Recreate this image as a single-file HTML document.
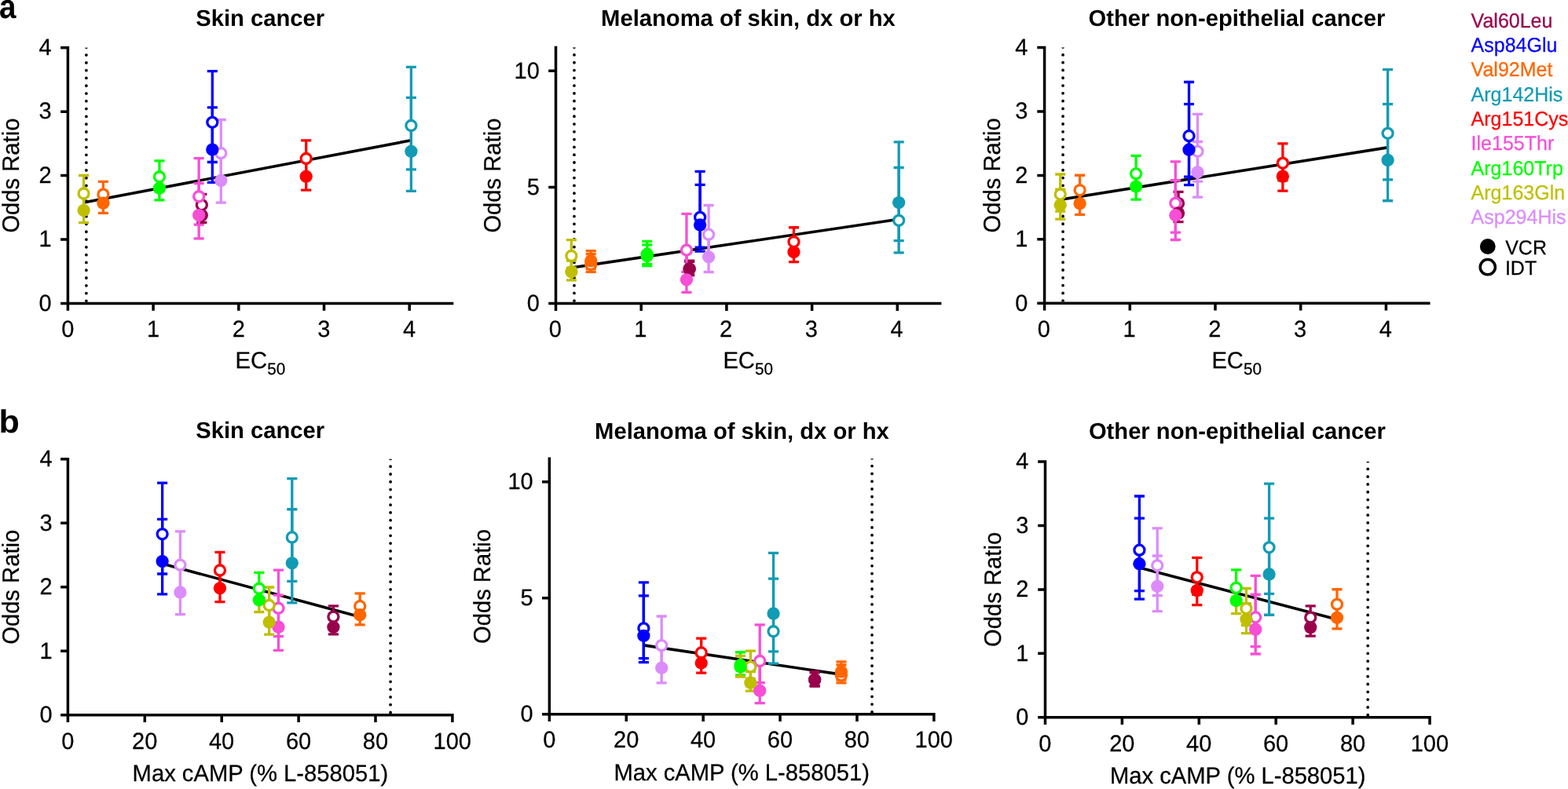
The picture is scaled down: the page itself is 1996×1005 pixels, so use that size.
<!DOCTYPE html>
<html lang="en">
<head>
<meta charset="utf-8">
<title>Odds ratio vs EC50 and Max cAMP</title>
<style>html,body{margin:0;padding:0;background:#fff;overflow:hidden}svg{display:block}text{white-space:pre}</style>
</head>
<body>
<svg width="1996" height="1005" viewBox="0 0 1996 1005" font-family='"Liberation Sans", sans-serif' fill="#000" text-rendering="geometricPrecision">
<rect width="1996" height="1005" fill="#fff"/>
<g>
<line x1="109.88" y1="60.3" x2="109.88" y2="386.5" stroke="#000" stroke-width="3.8" stroke-linecap="round" stroke-dasharray="0 9.79" clip-path="url(#clip1)"/>
<clipPath id="clip1"><rect x="86.4" y="60.7" width="489.15" height="324.05"/></clipPath>
<line x1="106.55" y1="258" x2="523.4" y2="178.75" stroke="#000" stroke-width="3.6"/>
<path d="M256.84 247.38V273.4M250.29 247.38H263.39M250.29 273.4H263.39" stroke="#99004C" stroke-width="3.3" fill="none"/>
<path d="M270.32 90.67V206.5M263.77 90.67H276.87M263.77 206.5H276.87" stroke="#0000FF" stroke-width="3.3" fill="none"/>
<path d="M131.4 231.34V262.21M124.85 231.34H137.95M124.85 262.21H137.95" stroke="#FF6600" stroke-width="3.3" fill="none"/>
<path d="M523.37 85.3V215.94M516.82 85.3H529.92M516.82 215.94H529.92" stroke="#129BB4" stroke-width="3.3" fill="none"/>
<path d="M389.67 178.88V222.57M383.12 178.88H396.22M383.12 222.57H396.22" stroke="#FF0000" stroke-width="3.3" fill="none"/>
<path d="M253.15 201.69V286.07M246.6 201.69H259.7M246.6 286.07H259.7" stroke="#F74ED6" stroke-width="3.3" fill="none"/>
<path d="M202.93 204.87V243.31M196.38 204.87H209.48M196.38 243.31H209.48" stroke="#00FF00" stroke-width="3.3" fill="none"/>
<path d="M106.56 223.52V266.22M100.01 223.52H113.11M100.01 266.22H113.11" stroke="#BFBF00" stroke-width="3.3" fill="none"/>
<path d="M281.3 152.49V230.07M274.75 152.49H287.85M274.75 230.07H287.85" stroke="#DC8CFA" stroke-width="3.3" fill="none"/>
<path d="M256.84 264.16V283.38M250.29 264.16H263.39M250.29 283.38H263.39" stroke="#99004C" stroke-width="3.3" fill="none"/>
<path d="M270.32 136.86V232.32M263.77 136.86H276.87M263.77 232.32H276.87" stroke="#0000FF" stroke-width="3.3" fill="none"/>
<path d="M131.4 244.52V271.33M124.85 244.52H137.95M124.85 271.33H137.95" stroke="#FF6600" stroke-width="3.3" fill="none"/>
<path d="M523.37 124.31V243.31M516.82 124.31H529.92M516.82 243.31H529.92" stroke="#129BB4" stroke-width="3.3" fill="none"/>
<path d="M389.67 205.39V242.17M383.12 205.39H396.22M383.12 242.17H396.22" stroke="#FF0000" stroke-width="3.3" fill="none"/>
<path d="M253.15 233.62V303.83M246.6 233.62H259.7M246.6 303.83H259.7" stroke="#F74ED6" stroke-width="3.3" fill="none"/>
<path d="M202.93 222.73V254.96M196.38 222.73H209.48M196.38 254.96H209.48" stroke="#00FF00" stroke-width="3.3" fill="none"/>
<path d="M106.56 250.16V283.63M100.01 250.16H113.11M100.01 283.63H113.11" stroke="#BFBF00" stroke-width="3.3" fill="none"/>
<path d="M281.3 195.71V258.05M274.75 195.71H287.85M274.75 258.05H287.85" stroke="#DC8CFA" stroke-width="3.3" fill="none"/>
<circle cx="256.84" cy="261.07" r="6.5" fill="#fff" stroke="#99004C" stroke-width="3.3"/>
<circle cx="270.32" cy="155.83" r="6.5" fill="#fff" stroke="#0000FF" stroke-width="3.3"/>
<circle cx="131.4" cy="247.63" r="6.5" fill="#fff" stroke="#FF6600" stroke-width="3.3"/>
<circle cx="523.37" cy="159.99" r="6.5" fill="#fff" stroke="#129BB4" stroke-width="3.3"/>
<circle cx="389.67" cy="202.02" r="6.5" fill="#fff" stroke="#FF0000" stroke-width="3.3"/>
<circle cx="253.15" cy="250.23" r="6.5" fill="#fff" stroke="#F74ED6" stroke-width="3.3"/>
<circle cx="202.93" cy="225.23" r="6.5" fill="#fff" stroke="#00FF00" stroke-width="3.3"/>
<circle cx="106.56" cy="246.49" r="6.5" fill="#fff" stroke="#BFBF00" stroke-width="3.3"/>
<circle cx="281.3" cy="195.17" r="6.5" fill="#fff" stroke="#DC8CFA" stroke-width="3.3"/>
<circle cx="256.84" cy="274.18" r="8.15" fill="#99004C"/>
<circle cx="270.32" cy="190.61" r="8.15" fill="#0000FF"/>
<circle cx="131.4" cy="258.62" r="8.15" fill="#FF6600"/>
<circle cx="523.37" cy="192.81" r="8.15" fill="#129BB4"/>
<circle cx="389.67" cy="224.82" r="8.15" fill="#FF0000"/>
<circle cx="253.15" cy="274.1" r="8.15" fill="#F74ED6"/>
<circle cx="202.93" cy="239.73" r="8.15" fill="#00FF00"/>
<circle cx="106.56" cy="268.07" r="8.15" fill="#BFBF00"/>
<circle cx="281.3" cy="229.95" r="8.15" fill="#DC8CFA"/>
<path d="M86.4 58.95V395.8M77.1 386.5H577.3M77.1 305.05H86.4M77.1 223.6H86.4M77.1 142.15H86.4M77.1 60.7H86.4M195.1 386.5V395.8M303.8 386.5V395.8M412.5 386.5V395.8M521.2 386.5V395.8" stroke="#000" stroke-width="3.5" fill="none"/>
<text transform="translate(65.7 395.8) scale(1 1.02)" font-size="29.0" text-anchor="end" stroke="#000" stroke-width="0.25">0</text>
<text transform="translate(65.7 314.35) scale(1 1.02)" font-size="29.0" text-anchor="end" stroke="#000" stroke-width="0.25">1</text>
<text transform="translate(65.7 232.9) scale(1 1.02)" font-size="29.0" text-anchor="end" stroke="#000" stroke-width="0.25">2</text>
<text transform="translate(65.7 151.45) scale(1 1.02)" font-size="29.0" text-anchor="end" stroke="#000" stroke-width="0.25">3</text>
<text transform="translate(65.7 70) scale(1 1.02)" font-size="29.0" text-anchor="end" stroke="#000" stroke-width="0.25">4</text>
<text transform="translate(86.3 429.1) scale(1 1.02)" font-size="29.0" text-anchor="middle" stroke="#000" stroke-width="0.25">0</text>
<text transform="translate(195 429.1) scale(1 1.02)" font-size="29.0" text-anchor="middle" stroke="#000" stroke-width="0.25">1</text>
<text transform="translate(303.7 429.1) scale(1 1.02)" font-size="29.0" text-anchor="middle" stroke="#000" stroke-width="0.25">2</text>
<text transform="translate(412.4 429.1) scale(1 1.02)" font-size="29.0" text-anchor="middle" stroke="#000" stroke-width="0.25">3</text>
<text transform="translate(521.1 429.1) scale(1 1.02)" font-size="29.0" text-anchor="middle" stroke="#000" stroke-width="0.25">4</text>
<text x="249.3" y="32.8" font-size="29.2" font-weight="bold">Skin cancer</text>
<text transform="translate(23.6 223.6) rotate(-90) scale(1 1.03)" font-size="29.2" text-anchor="middle" stroke="#000" stroke-width="0.25">Odds Ratio</text>
<text transform="translate(299.6 468.9) scale(1 1.02)" font-size="29.2" stroke="#000" stroke-width="0.25">EC<tspan font-size="20.7" dy="7.8">50</tspan></text>
</g>
<g>
<line x1="730.98" y1="60.16" x2="730.98" y2="386.6" stroke="#000" stroke-width="3.8" stroke-linecap="round" stroke-dasharray="0 9.79" clip-path="url(#clip2)"/>
<clipPath id="clip2"><rect x="707.5" y="60.56" width="489.15" height="324.29"/></clipPath>
<line x1="727.4" y1="341" x2="1144.2" y2="279.3" stroke="#000" stroke-width="3.6"/>
<path d="M877.64 332.11V350.19M871.09 332.11H884.19M871.09 350.19H884.19" stroke="#99004C" stroke-width="3.3" fill="none"/>
<path d="M891.12 218.44V315.13M884.57 218.44H897.67M884.57 315.13H897.67" stroke="#0000FF" stroke-width="3.3" fill="none"/>
<path d="M752.2 323.61V346.43M745.65 323.61H758.75M745.65 346.43H758.75" stroke="#FF6600" stroke-width="3.3" fill="none"/>
<path d="M1144.17 213.49V321.8M1137.62 213.49H1150.72M1137.62 321.8H1150.72" stroke="#129BB4" stroke-width="3.3" fill="none"/>
<path d="M1010.47 289.76V322.89M1003.92 289.76H1017.02M1003.92 322.89H1017.02" stroke="#FF0000" stroke-width="3.3" fill="none"/>
<path d="M873.95 272.39V346.25M867.4 272.39H880.5M867.4 346.25H880.5" stroke="#F74ED6" stroke-width="3.3" fill="none"/>
<path d="M823.73 307.36V336.56M817.18 307.36H830.28M817.18 336.56H830.28" stroke="#00FF00" stroke-width="3.3" fill="none"/>
<path d="M727.36 305.7V341.21M720.81 305.7H733.91M720.81 341.21H733.91" stroke="#BFBF00" stroke-width="3.3" fill="none"/>
<path d="M902.1 261.51V324.86M895.55 261.51H908.65M895.55 324.86H908.65" stroke="#DC8CFA" stroke-width="3.3" fill="none"/>
<path d="M877.64 333.45V350.64M871.09 333.45H884.19M871.09 350.64H884.19" stroke="#99004C" stroke-width="3.3" fill="none"/>
<path d="M891.12 235.46V320.2M884.57 235.46H897.67M884.57 320.2H897.67" stroke="#0000FF" stroke-width="3.3" fill="none"/>
<path d="M752.2 319.58V342.7M745.65 319.58H758.75M745.65 342.7H758.75" stroke="#FF6600" stroke-width="3.3" fill="none"/>
<path d="M1144.17 180.89V306.53M1137.62 180.89H1150.72M1137.62 306.53H1150.72" stroke="#129BB4" stroke-width="3.3" fill="none"/>
<path d="M1010.47 305.24V333.71M1003.92 305.24H1017.02M1003.92 333.71H1017.02" stroke="#FF0000" stroke-width="3.3" fill="none"/>
<path d="M873.95 322.22V372.39M867.4 322.22H880.5M867.4 372.39H880.5" stroke="#F74ED6" stroke-width="3.3" fill="none"/>
<path d="M823.73 311.96V338.63M817.18 311.96H830.28M817.18 338.63H830.28" stroke="#00FF00" stroke-width="3.3" fill="none"/>
<path d="M727.36 332.14V356.8M720.81 332.14H733.91M720.81 356.8H733.91" stroke="#BFBF00" stroke-width="3.3" fill="none"/>
<path d="M902.1 299.01V346.49M895.55 299.01H908.65M895.55 346.49H908.65" stroke="#DC8CFA" stroke-width="3.3" fill="none"/>
<circle cx="877.64" cy="342.34" r="6.5" fill="#fff" stroke="#99004C" stroke-width="3.3"/>
<circle cx="891.12" cy="276.87" r="6.5" fill="#fff" stroke="#0000FF" stroke-width="3.3"/>
<circle cx="752.2" cy="337" r="6.5" fill="#fff" stroke="#FF6600" stroke-width="3.3"/>
<circle cx="1144.17" cy="280.81" r="6.5" fill="#fff" stroke="#129BB4" stroke-width="3.3"/>
<circle cx="1010.47" cy="308.05" r="6.5" fill="#fff" stroke="#FF0000" stroke-width="3.3"/>
<circle cx="873.95" cy="318.6" r="6.5" fill="#fff" stroke="#F74ED6" stroke-width="3.3"/>
<circle cx="823.73" cy="323.67" r="6.5" fill="#fff" stroke="#00FF00" stroke-width="3.3"/>
<circle cx="727.36" cy="326.01" r="6.5" fill="#fff" stroke="#BFBF00" stroke-width="3.3"/>
<circle cx="902.1" cy="298.71" r="6.5" fill="#fff" stroke="#DC8CFA" stroke-width="3.3"/>
<circle cx="877.64" cy="342.7" r="8.15" fill="#99004C"/>
<circle cx="891.12" cy="286.41" r="8.15" fill="#0000FF"/>
<circle cx="752.2" cy="332.2" r="8.15" fill="#FF6600"/>
<circle cx="1144.17" cy="258.1" r="8.15" fill="#129BB4"/>
<circle cx="1010.47" cy="321" r="8.15" fill="#FF0000"/>
<circle cx="873.95" cy="356.3" r="8.15" fill="#F74ED6"/>
<circle cx="823.73" cy="326.04" r="8.15" fill="#00FF00"/>
<circle cx="727.36" cy="346.31" r="8.15" fill="#BFBF00"/>
<circle cx="902.1" cy="327.31" r="8.15" fill="#DC8CFA"/>
<path d="M707.5 58.81V395.9M698.2 386.6H1198.4M698.2 238.4H707.5M698.2 90.2H707.5M816.2 386.6V395.9M924.9 386.6V395.9M1033.6 386.6V395.9M1142.3 386.6V395.9" stroke="#000" stroke-width="3.5" fill="none"/>
<text transform="translate(686.8 395.9) scale(1 1.02)" font-size="29.0" text-anchor="end" stroke="#000" stroke-width="0.25">0</text>
<text transform="translate(686.8 247.7) scale(1 1.02)" font-size="29.0" text-anchor="end" stroke="#000" stroke-width="0.25">5</text>
<text transform="translate(686.8 99.5) scale(1 1.02)" font-size="29.0" text-anchor="end" stroke="#000" stroke-width="0.25">10</text>
<text transform="translate(706.7 429.1) scale(1 1.02)" font-size="29.0" text-anchor="middle" stroke="#000" stroke-width="0.25">0</text>
<text transform="translate(815.4 429.1) scale(1 1.02)" font-size="29.0" text-anchor="middle" stroke="#000" stroke-width="0.25">1</text>
<text transform="translate(924.1 429.1) scale(1 1.02)" font-size="29.0" text-anchor="middle" stroke="#000" stroke-width="0.25">2</text>
<text transform="translate(1032.8 429.1) scale(1 1.02)" font-size="29.0" text-anchor="middle" stroke="#000" stroke-width="0.25">3</text>
<text transform="translate(1141.5 429.1) scale(1 1.02)" font-size="29.0" text-anchor="middle" stroke="#000" stroke-width="0.25">4</text>
<text x="765.1" y="32.8" font-size="29.2" font-weight="bold">Melanoma of skin, dx or hx</text>
<text transform="translate(637 223.58) rotate(-90) scale(1 1.03)" font-size="29.2" text-anchor="middle" stroke="#000" stroke-width="0.25">Odds Ratio</text>
<text transform="translate(920.4 468.9) scale(1 1.02)" font-size="29.2" stroke="#000" stroke-width="0.25">EC<tspan font-size="20.7" dy="7.8">50</tspan></text>
</g>
<g>
<line x1="1353.08" y1="60.1" x2="1353.08" y2="386.3" stroke="#000" stroke-width="3.8" stroke-linecap="round" stroke-dasharray="0 9.79" clip-path="url(#clip3)"/>
<clipPath id="clip3"><rect x="1329.6" y="60.5" width="489.15" height="324.05"/></clipPath>
<line x1="1349.8" y1="254.3" x2="1766.4" y2="187.85" stroke="#000" stroke-width="3.6"/>
<path d="M1500.04 244.41V272.22M1493.49 244.41H1506.59M1493.49 272.22H1506.59" stroke="#99004C" stroke-width="3.3" fill="none"/>
<path d="M1513.52 104.48V225.03M1506.97 104.48H1520.07M1506.97 225.03H1520.07" stroke="#0000FF" stroke-width="3.3" fill="none"/>
<path d="M1374.6 223.24V259.13M1368.05 223.24H1381.15M1368.05 259.13H1381.15" stroke="#FF6600" stroke-width="3.3" fill="none"/>
<path d="M1766.57 88.68V228.94M1760.02 88.68H1773.12M1760.02 228.94H1773.12" stroke="#129BB4" stroke-width="3.3" fill="none"/>
<path d="M1632.87 182.84V229.78M1626.32 182.84H1639.42M1626.32 229.78H1639.42" stroke="#FF0000" stroke-width="3.3" fill="none"/>
<path d="M1496.35 205.81V296.13M1489.8 205.81H1502.9M1489.8 296.13H1502.9" stroke="#F74ED6" stroke-width="3.3" fill="none"/>
<path d="M1446.13 198.39V241.38M1439.58 198.39H1452.68M1439.58 241.38H1452.68" stroke="#00FF00" stroke-width="3.3" fill="none"/>
<path d="M1349.76 222.02V269.17M1343.21 222.02H1356.31M1343.21 269.17H1356.31" stroke="#BFBF00" stroke-width="3.3" fill="none"/>
<path d="M1524.5 145.29V231.14M1517.95 145.29H1531.05M1517.95 231.14H1531.05" stroke="#DC8CFA" stroke-width="3.3" fill="none"/>
<path d="M1500.04 259.46V282.61M1493.49 259.46H1506.59M1493.49 282.61H1506.59" stroke="#99004C" stroke-width="3.3" fill="none"/>
<path d="M1513.52 132.58V235.62M1506.97 132.58H1520.07M1506.97 235.62H1520.07" stroke="#0000FF" stroke-width="3.3" fill="none"/>
<path d="M1374.6 243.57V273.33M1368.05 243.57H1381.15M1368.05 273.33H1381.15" stroke="#FF6600" stroke-width="3.3" fill="none"/>
<path d="M1766.57 132.58V255.74M1760.02 132.58H1773.12M1760.02 255.74H1773.12" stroke="#129BB4" stroke-width="3.3" fill="none"/>
<path d="M1632.87 203.85V243.03M1626.32 203.85H1639.42M1626.32 243.03H1639.42" stroke="#FF0000" stroke-width="3.3" fill="none"/>
<path d="M1496.35 229.75V305.5M1489.8 229.75H1502.9M1489.8 305.5H1502.9" stroke="#F74ED6" stroke-width="3.3" fill="none"/>
<path d="M1446.13 218.97V254.11M1439.58 218.97H1452.68M1439.58 254.11H1452.68" stroke="#00FF00" stroke-width="3.3" fill="none"/>
<path d="M1349.76 241.07V279.11M1343.21 241.07H1356.31M1343.21 279.11H1356.31" stroke="#BFBF00" stroke-width="3.3" fill="none"/>
<path d="M1524.5 180.48V251.17M1517.95 180.48H1531.05M1517.95 251.17H1531.05" stroke="#DC8CFA" stroke-width="3.3" fill="none"/>
<circle cx="1500.04" cy="259.08" r="6.5" fill="#fff" stroke="#99004C" stroke-width="3.3"/>
<circle cx="1513.52" cy="173.15" r="6.5" fill="#fff" stroke="#0000FF" stroke-width="3.3"/>
<circle cx="1374.6" cy="242.3" r="6.5" fill="#fff" stroke="#FF6600" stroke-width="3.3"/>
<circle cx="1766.57" cy="169.81" r="6.5" fill="#fff" stroke="#129BB4" stroke-width="3.3"/>
<circle cx="1632.87" cy="207.84" r="6.5" fill="#fff" stroke="#FF0000" stroke-width="3.3"/>
<circle cx="1496.35" cy="258.83" r="6.5" fill="#fff" stroke="#F74ED6" stroke-width="3.3"/>
<circle cx="1446.13" cy="221.28" r="6.5" fill="#fff" stroke="#00FF00" stroke-width="3.3"/>
<circle cx="1349.76" cy="247.59" r="6.5" fill="#fff" stroke="#BFBF00" stroke-width="3.3"/>
<circle cx="1524.5" cy="192.86" r="6.5" fill="#fff" stroke="#DC8CFA" stroke-width="3.3"/>
<circle cx="1500.04" cy="271.62" r="8.15" fill="#99004C"/>
<circle cx="1513.52" cy="190.66" r="8.15" fill="#0000FF"/>
<circle cx="1374.6" cy="259.32" r="8.15" fill="#FF6600"/>
<circle cx="1766.57" cy="204.01" r="8.15" fill="#129BB4"/>
<circle cx="1632.87" cy="224.62" r="8.15" fill="#FF0000"/>
<circle cx="1496.35" cy="274.14" r="8.15" fill="#F74ED6"/>
<circle cx="1446.13" cy="237.57" r="8.15" fill="#00FF00"/>
<circle cx="1349.76" cy="261.27" r="8.15" fill="#BFBF00"/>
<circle cx="1524.5" cy="219.33" r="8.15" fill="#DC8CFA"/>
<path d="M1329.6 58.75V395.6M1320.3 386.3H1820.5M1320.3 304.85H1329.6M1320.3 223.4H1329.6M1320.3 141.95H1329.6M1320.3 60.5H1329.6M1438.3 386.3V395.6M1547 386.3V395.6M1655.7 386.3V395.6M1764.4 386.3V395.6" stroke="#000" stroke-width="3.5" fill="none"/>
<text transform="translate(1308.3 395.6) scale(1 1.02)" font-size="29.0" text-anchor="end" stroke="#000" stroke-width="0.25">0</text>
<text transform="translate(1308.3 314.15) scale(1 1.02)" font-size="29.0" text-anchor="end" stroke="#000" stroke-width="0.25">1</text>
<text transform="translate(1308.3 232.7) scale(1 1.02)" font-size="29.0" text-anchor="end" stroke="#000" stroke-width="0.25">2</text>
<text transform="translate(1308.3 151.25) scale(1 1.02)" font-size="29.0" text-anchor="end" stroke="#000" stroke-width="0.25">3</text>
<text transform="translate(1308.3 69.8) scale(1 1.02)" font-size="29.0" text-anchor="end" stroke="#000" stroke-width="0.25">4</text>
<text transform="translate(1328.9 429.1) scale(1 1.02)" font-size="29.0" text-anchor="middle" stroke="#000" stroke-width="0.25">0</text>
<text transform="translate(1437.6 429.1) scale(1 1.02)" font-size="29.0" text-anchor="middle" stroke="#000" stroke-width="0.25">1</text>
<text transform="translate(1546.3 429.1) scale(1 1.02)" font-size="29.0" text-anchor="middle" stroke="#000" stroke-width="0.25">2</text>
<text transform="translate(1655 429.1) scale(1 1.02)" font-size="29.0" text-anchor="middle" stroke="#000" stroke-width="0.25">3</text>
<text transform="translate(1763.7 429.1) scale(1 1.02)" font-size="29.0" text-anchor="middle" stroke="#000" stroke-width="0.25">4</text>
<text x="1385.5" y="32.8" font-size="29.2" font-weight="bold">Other non-epithelial cancer</text>
<text transform="translate(1273.3 223.4) rotate(-90) scale(1 1.03)" font-size="29.2" text-anchor="middle" stroke="#000" stroke-width="0.25">Odds Ratio</text>
<text transform="translate(1542.4 468.9) scale(1 1.02)" font-size="29.2" stroke="#000" stroke-width="0.25">EC<tspan font-size="20.7" dy="7.8">50</tspan></text>
</g>
<g>
<line x1="497.09" y1="584.4" x2="497.09" y2="910.8" stroke="#000" stroke-width="3.8" stroke-linecap="round" stroke-dasharray="0 9.79" clip-path="url(#clip4)"/>
<clipPath id="clip4"><rect x="86.4" y="584.8" width="489.5" height="324.25"/></clipPath>
<line x1="206.6" y1="718" x2="458.2" y2="785.7" stroke="#000" stroke-width="3.6"/>
<path d="M424.4 771.9V797.94M417.85 771.9H430.95M417.85 797.94H430.95" stroke="#99004C" stroke-width="3.3" fill="none"/>
<path d="M206.62 615.09V730.98M200.07 615.09H213.17M200.07 730.98H213.17" stroke="#0000FF" stroke-width="3.3" fill="none"/>
<path d="M458.18 755.84V786.73M451.63 755.84H464.73M451.63 786.73H464.73" stroke="#FF6600" stroke-width="3.3" fill="none"/>
<path d="M371.78 609.71V740.44M365.23 609.71H378.33M365.23 740.44H378.33" stroke="#129BB4" stroke-width="3.3" fill="none"/>
<path d="M279.95 703.36V747.07M273.4 703.36H286.5M273.4 747.07H286.5" stroke="#FF0000" stroke-width="3.3" fill="none"/>
<path d="M354.45 726.18V810.61M347.9 726.18H361M347.9 810.61H361" stroke="#F74ED6" stroke-width="3.3" fill="none"/>
<path d="M329.83 729.35V767.82M323.28 729.35H336.38M323.28 767.82H336.38" stroke="#00FF00" stroke-width="3.3" fill="none"/>
<path d="M342.65 748.02V790.75M336.1 748.02H349.2M336.1 790.75H349.2" stroke="#BFBF00" stroke-width="3.3" fill="none"/>
<path d="M229.43 676.95V754.57M222.88 676.95H235.98M222.88 754.57H235.98" stroke="#DC8CFA" stroke-width="3.3" fill="none"/>
<path d="M424.4 788.68V807.92M417.85 788.68H430.95M417.85 807.92H430.95" stroke="#99004C" stroke-width="3.3" fill="none"/>
<path d="M206.62 661.3V756.82M200.07 661.3H213.17M200.07 756.82H213.17" stroke="#0000FF" stroke-width="3.3" fill="none"/>
<path d="M458.18 769.03V795.86M451.63 769.03H464.73M451.63 795.86H464.73" stroke="#FF6600" stroke-width="3.3" fill="none"/>
<path d="M371.78 648.75V767.82M365.23 648.75H378.33M365.23 767.82H378.33" stroke="#129BB4" stroke-width="3.3" fill="none"/>
<path d="M279.95 729.88V766.68M273.4 729.88H286.5M273.4 766.68H286.5" stroke="#FF0000" stroke-width="3.3" fill="none"/>
<path d="M354.45 758.12V828.38M347.9 758.12H361M347.9 828.38H361" stroke="#F74ED6" stroke-width="3.3" fill="none"/>
<path d="M329.83 747.23V779.48M323.28 747.23H336.38M323.28 779.48H336.38" stroke="#BFBF00" stroke-width="3.3" fill="none"/>
<path d="M342.65 774.68V808.17M336.1 774.68H349.2M336.1 808.17H349.2" stroke="#BFBF00" stroke-width="3.3" fill="none"/>
<path d="M229.43 720.19V782.57M222.88 720.19H235.98M222.88 782.57H235.98" stroke="#DC8CFA" stroke-width="3.3" fill="none"/>
<circle cx="424.4" cy="785.59" r="6.5" fill="#fff" stroke="#99004C" stroke-width="3.3"/>
<circle cx="206.62" cy="680.29" r="6.5" fill="#fff" stroke="#0000FF" stroke-width="3.3"/>
<circle cx="458.18" cy="772.14" r="6.5" fill="#fff" stroke="#FF6600" stroke-width="3.3"/>
<circle cx="371.78" cy="684.45" r="6.5" fill="#fff" stroke="#129BB4" stroke-width="3.3"/>
<circle cx="279.95" cy="726.5" r="6.5" fill="#fff" stroke="#FF0000" stroke-width="3.3"/>
<circle cx="354.45" cy="774.75" r="6.5" fill="#fff" stroke="#F74ED6" stroke-width="3.3"/>
<circle cx="329.83" cy="749.73" r="6.5" fill="#fff" stroke="#00FF00" stroke-width="3.3"/>
<circle cx="342.65" cy="771" r="6.5" fill="#fff" stroke="#BFBF00" stroke-width="3.3"/>
<circle cx="229.43" cy="719.66" r="6.5" fill="#fff" stroke="#DC8CFA" stroke-width="3.3"/>
<circle cx="424.4" cy="798.71" r="8.15" fill="#99004C"/>
<circle cx="206.62" cy="715.09" r="8.15" fill="#0000FF"/>
<circle cx="458.18" cy="783.14" r="8.15" fill="#FF6600"/>
<circle cx="371.78" cy="717.29" r="8.15" fill="#129BB4"/>
<circle cx="279.95" cy="749.32" r="8.15" fill="#FF0000"/>
<circle cx="354.45" cy="798.63" r="8.15" fill="#F74ED6"/>
<circle cx="329.83" cy="764.24" r="8.15" fill="#00FF00"/>
<circle cx="342.65" cy="792.6" r="8.15" fill="#BFBF00"/>
<circle cx="229.43" cy="754.46" r="8.15" fill="#DC8CFA"/>
<path d="M86.4 583.05V920.1M77.1 910.8H577.65M77.1 829.3H86.4M77.1 747.8H86.4M77.1 666.3H86.4M77.1 584.8H86.4M184.3 910.8V920.1M282.2 910.8V920.1M380.1 910.8V920.1M478 910.8V920.1M575.9 910.8V920.1" stroke="#000" stroke-width="3.5" fill="none"/>
<text transform="translate(66.6 920.1) scale(1 1.02)" font-size="29.0" text-anchor="end" stroke="#000" stroke-width="0.25">0</text>
<text transform="translate(66.6 838.6) scale(1 1.02)" font-size="29.0" text-anchor="end" stroke="#000" stroke-width="0.25">1</text>
<text transform="translate(66.6 757.1) scale(1 1.02)" font-size="29.0" text-anchor="end" stroke="#000" stroke-width="0.25">2</text>
<text transform="translate(66.6 675.6) scale(1 1.02)" font-size="29.0" text-anchor="end" stroke="#000" stroke-width="0.25">3</text>
<text transform="translate(66.6 594.1) scale(1 1.02)" font-size="29.0" text-anchor="end" stroke="#000" stroke-width="0.25">4</text>
<text transform="translate(86.3 953.95) scale(1 1.02)" font-size="29.0" text-anchor="middle" stroke="#000" stroke-width="0.25">0</text>
<text transform="translate(184.2 953.95) scale(1 1.02)" font-size="29.0" text-anchor="middle" stroke="#000" stroke-width="0.25">20</text>
<text transform="translate(282.1 953.95) scale(1 1.02)" font-size="29.0" text-anchor="middle" stroke="#000" stroke-width="0.25">40</text>
<text transform="translate(380 953.95) scale(1 1.02)" font-size="29.0" text-anchor="middle" stroke="#000" stroke-width="0.25">60</text>
<text transform="translate(477.9 953.95) scale(1 1.02)" font-size="29.0" text-anchor="middle" stroke="#000" stroke-width="0.25">80</text>
<text transform="translate(575.8 953.95) scale(1 1.02)" font-size="29.0" text-anchor="middle" stroke="#000" stroke-width="0.25">100</text>
<text x="249.3" y="558.4" font-size="29.2" font-weight="bold">Skin cancer</text>
<text transform="translate(23.6 747.8) rotate(-90) scale(1 1.03)" font-size="29.2" text-anchor="middle" stroke="#000" stroke-width="0.25">Odds Ratio</text>
<text transform="translate(168.6 995) scale(1 1.02)" font-size="29.2" stroke="#000" stroke-width="0.25">Max cAMP (% L-858051)</text>
</g>
<g>
<line x1="1110.04" y1="583.8" x2="1110.04" y2="909.8" stroke="#000" stroke-width="3.8" stroke-linecap="round" stroke-dasharray="0 9.79" clip-path="url(#clip5)"/>
<clipPath id="clip5"><rect x="699.35" y="584.2" width="489.5" height="323.85"/></clipPath>
<line x1="819.4" y1="821.9" x2="1071" y2="859.1" stroke="#000" stroke-width="3.6"/>
<path d="M1037.15 855.49V873.54M1030.6 855.49H1043.7M1030.6 873.54H1043.7" stroke="#99004C" stroke-width="3.3" fill="none"/>
<path d="M819.37 741.97V838.53M812.82 741.97H825.92M812.82 838.53H825.92" stroke="#0000FF" stroke-width="3.3" fill="none"/>
<path d="M1070.93 846.99V869.78M1064.38 846.99H1077.48M1064.38 869.78H1077.48" stroke="#FF6600" stroke-width="3.3" fill="none"/>
<path d="M984.53 737.03V845.19M977.98 737.03H991.08M977.98 845.19H991.08" stroke="#129BB4" stroke-width="3.3" fill="none"/>
<path d="M892.7 813.19V846.27M886.15 813.19H899.25M886.15 846.27H899.25" stroke="#FF0000" stroke-width="3.3" fill="none"/>
<path d="M967.2 795.84V869.61M960.65 795.84H973.75M960.65 869.61H973.75" stroke="#F74ED6" stroke-width="3.3" fill="none"/>
<path d="M942.58 830.77V859.93M936.03 830.77H949.13M936.03 859.93H949.13" stroke="#00FF00" stroke-width="3.3" fill="none"/>
<path d="M955.4 829.11V864.58M948.85 829.11H961.95M948.85 864.58H961.95" stroke="#BFBF00" stroke-width="3.3" fill="none"/>
<path d="M842.18 784.98V848.25M835.63 784.98H848.73M835.63 848.25H848.73" stroke="#DC8CFA" stroke-width="3.3" fill="none"/>
<path d="M1037.15 856.82V873.99M1030.6 856.82H1043.7M1030.6 873.99H1043.7" stroke="#99004C" stroke-width="3.3" fill="none"/>
<path d="M819.37 758.96V843.59M812.82 758.96H825.92M812.82 843.59H825.92" stroke="#0000FF" stroke-width="3.3" fill="none"/>
<path d="M1070.93 842.97V866.06M1064.38 842.97H1077.48M1064.38 866.06H1077.48" stroke="#FF6600" stroke-width="3.3" fill="none"/>
<path d="M984.53 704.47V829.94M977.98 704.47H991.08M977.98 829.94H991.08" stroke="#129BB4" stroke-width="3.3" fill="none"/>
<path d="M892.7 828.65V857.09M886.15 828.65H899.25M886.15 857.09H899.25" stroke="#FF0000" stroke-width="3.3" fill="none"/>
<path d="M967.2 845.61V895.71M960.65 845.61H973.75M960.65 895.71H973.75" stroke="#F74ED6" stroke-width="3.3" fill="none"/>
<path d="M942.58 835.36V862M936.03 835.36H949.13M936.03 862H949.13" stroke="#BFBF00" stroke-width="3.3" fill="none"/>
<path d="M955.4 855.52V880.14M948.85 855.52H961.95M948.85 880.14H961.95" stroke="#BFBF00" stroke-width="3.3" fill="none"/>
<path d="M842.18 822.43V869.84M835.63 822.43H848.73M835.63 869.84H848.73" stroke="#DC8CFA" stroke-width="3.3" fill="none"/>
<circle cx="1037.15" cy="865.7" r="6.5" fill="#fff" stroke="#99004C" stroke-width="3.3"/>
<circle cx="819.37" cy="800.31" r="6.5" fill="#fff" stroke="#0000FF" stroke-width="3.3"/>
<circle cx="1070.93" cy="860.37" r="6.5" fill="#fff" stroke="#FF6600" stroke-width="3.3"/>
<circle cx="984.53" cy="804.25" r="6.5" fill="#fff" stroke="#129BB4" stroke-width="3.3"/>
<circle cx="892.7" cy="831.45" r="6.5" fill="#fff" stroke="#FF0000" stroke-width="3.3"/>
<circle cx="967.2" cy="841.99" r="6.5" fill="#fff" stroke="#F74ED6" stroke-width="3.3"/>
<circle cx="942.58" cy="847.05" r="6.5" fill="#fff" stroke="#00FF00" stroke-width="3.3"/>
<circle cx="955.4" cy="849.39" r="6.5" fill="#fff" stroke="#BFBF00" stroke-width="3.3"/>
<circle cx="842.18" cy="822.13" r="6.5" fill="#fff" stroke="#DC8CFA" stroke-width="3.3"/>
<circle cx="1037.15" cy="866.06" r="8.15" fill="#99004C"/>
<circle cx="819.37" cy="809.84" r="8.15" fill="#0000FF"/>
<circle cx="1070.93" cy="855.58" r="8.15" fill="#FF6600"/>
<circle cx="984.53" cy="781.58" r="8.15" fill="#129BB4"/>
<circle cx="892.7" cy="844.39" r="8.15" fill="#FF0000"/>
<circle cx="967.2" cy="879.64" r="8.15" fill="#F74ED6"/>
<circle cx="942.58" cy="849.42" r="8.15" fill="#00FF00"/>
<circle cx="955.4" cy="869.67" r="8.15" fill="#BFBF00"/>
<circle cx="842.18" cy="850.69" r="8.15" fill="#DC8CFA"/>
<path d="M699.35 582.45V919.1M690.05 909.8H1190.6M690.05 761.8H699.35M690.05 613.8H699.35M797.25 909.8V919.1M895.15 909.8V919.1M993.05 909.8V919.1M1090.95 909.8V919.1M1188.85 909.8V919.1" stroke="#000" stroke-width="3.5" fill="none"/>
<text transform="translate(678.7 919.1) scale(1 1.02)" font-size="29.0" text-anchor="end" stroke="#000" stroke-width="0.25">0</text>
<text transform="translate(678.7 771.1) scale(1 1.02)" font-size="29.0" text-anchor="end" stroke="#000" stroke-width="0.25">5</text>
<text transform="translate(678.7 623.1) scale(1 1.02)" font-size="29.0" text-anchor="end" stroke="#000" stroke-width="0.25">10</text>
<text transform="translate(699.25 952.45) scale(1 1.02)" font-size="29.0" text-anchor="middle" stroke="#000" stroke-width="0.25">0</text>
<text transform="translate(797.15 952.45) scale(1 1.02)" font-size="29.0" text-anchor="middle" stroke="#000" stroke-width="0.25">20</text>
<text transform="translate(895.05 952.45) scale(1 1.02)" font-size="29.0" text-anchor="middle" stroke="#000" stroke-width="0.25">40</text>
<text transform="translate(992.95 952.45) scale(1 1.02)" font-size="29.0" text-anchor="middle" stroke="#000" stroke-width="0.25">60</text>
<text transform="translate(1090.85 952.45) scale(1 1.02)" font-size="29.0" text-anchor="middle" stroke="#000" stroke-width="0.25">80</text>
<text transform="translate(1188.75 952.45) scale(1 1.02)" font-size="29.0" text-anchor="middle" stroke="#000" stroke-width="0.25">100</text>
<text x="757.1" y="558.6" font-size="29.2" font-weight="bold">Melanoma of skin, dx or hx</text>
<text transform="translate(623.6 747) rotate(-90) scale(1 1.03)" font-size="29.2" text-anchor="middle" stroke="#000" stroke-width="0.25">Odds Ratio</text>
<text transform="translate(781.4 993.8) scale(1 1.02)" font-size="29.2" stroke="#000" stroke-width="0.25">Max cAMP (% L-858051)</text>
</g>
<g>
<line x1="1741.19" y1="587.6" x2="1741.19" y2="913.8" stroke="#000" stroke-width="3.8" stroke-linecap="round" stroke-dasharray="0 9.79" clip-path="url(#clip6)"/>
<clipPath id="clip6"><rect x="1330.5" y="588" width="489.5" height="324.05"/></clipPath>
<line x1="1450.4" y1="723" x2="1702" y2="789" stroke="#000" stroke-width="3.6"/>
<path d="M1668.2 771.91V799.72M1661.65 771.91H1674.75M1661.65 799.72H1674.75" stroke="#99004C" stroke-width="3.3" fill="none"/>
<path d="M1450.42 631.98V752.53M1443.87 631.98H1456.97M1443.87 752.53H1456.97" stroke="#0000FF" stroke-width="3.3" fill="none"/>
<path d="M1701.98 750.74V786.63M1695.43 750.74H1708.53M1695.43 786.63H1708.53" stroke="#FF6600" stroke-width="3.3" fill="none"/>
<path d="M1615.58 616.18V756.44M1609.03 616.18H1622.13M1609.03 756.44H1622.13" stroke="#129BB4" stroke-width="3.3" fill="none"/>
<path d="M1523.75 710.34V757.28M1517.2 710.34H1530.3M1517.2 757.28H1530.3" stroke="#FF0000" stroke-width="3.3" fill="none"/>
<path d="M1598.25 733.31V823.63M1591.7 733.31H1604.8M1591.7 823.63H1604.8" stroke="#F74ED6" stroke-width="3.3" fill="none"/>
<path d="M1573.63 725.89V768.88M1567.08 725.89H1580.18M1567.08 768.88H1580.18" stroke="#00FF00" stroke-width="3.3" fill="none"/>
<path d="M1586.45 749.52V796.67M1579.9 749.52H1593M1579.9 796.67H1593" stroke="#BFBF00" stroke-width="3.3" fill="none"/>
<path d="M1473.23 672.79V758.64M1466.68 672.79H1479.78M1466.68 758.64H1479.78" stroke="#DC8CFA" stroke-width="3.3" fill="none"/>
<path d="M1668.2 786.96V810.11M1661.65 786.96H1674.75M1661.65 810.11H1674.75" stroke="#99004C" stroke-width="3.3" fill="none"/>
<path d="M1450.42 660.08V763.12M1443.87 660.08H1456.97M1443.87 763.12H1456.97" stroke="#0000FF" stroke-width="3.3" fill="none"/>
<path d="M1701.98 771.07V800.83M1695.43 771.07H1708.53M1695.43 800.83H1708.53" stroke="#FF6600" stroke-width="3.3" fill="none"/>
<path d="M1615.58 660.08V783.24M1609.03 660.08H1622.13M1609.03 783.24H1622.13" stroke="#129BB4" stroke-width="3.3" fill="none"/>
<path d="M1523.75 731.35V770.53M1517.2 731.35H1530.3M1517.2 770.53H1530.3" stroke="#FF0000" stroke-width="3.3" fill="none"/>
<path d="M1598.25 757.25V833M1591.7 757.25H1604.8M1591.7 833H1604.8" stroke="#F74ED6" stroke-width="3.3" fill="none"/>
<path d="M1573.63 746.47V781.61M1567.08 746.47H1580.18M1567.08 781.61H1580.18" stroke="#BFBF00" stroke-width="3.3" fill="none"/>
<path d="M1586.45 768.57V806.61M1579.9 768.57H1593M1579.9 806.61H1593" stroke="#BFBF00" stroke-width="3.3" fill="none"/>
<path d="M1473.23 707.98V778.67M1466.68 707.98H1479.78M1466.68 778.67H1479.78" stroke="#DC8CFA" stroke-width="3.3" fill="none"/>
<circle cx="1668.2" cy="786.58" r="6.5" fill="#fff" stroke="#99004C" stroke-width="3.3"/>
<circle cx="1450.42" cy="700.65" r="6.5" fill="#fff" stroke="#0000FF" stroke-width="3.3"/>
<circle cx="1701.98" cy="769.8" r="6.5" fill="#fff" stroke="#FF6600" stroke-width="3.3"/>
<circle cx="1615.58" cy="697.31" r="6.5" fill="#fff" stroke="#129BB4" stroke-width="3.3"/>
<circle cx="1523.75" cy="735.34" r="6.5" fill="#fff" stroke="#FF0000" stroke-width="3.3"/>
<circle cx="1598.25" cy="786.33" r="6.5" fill="#fff" stroke="#F74ED6" stroke-width="3.3"/>
<circle cx="1573.63" cy="748.78" r="6.5" fill="#fff" stroke="#00FF00" stroke-width="3.3"/>
<circle cx="1586.45" cy="775.09" r="6.5" fill="#fff" stroke="#BFBF00" stroke-width="3.3"/>
<circle cx="1473.23" cy="720.36" r="6.5" fill="#fff" stroke="#DC8CFA" stroke-width="3.3"/>
<circle cx="1668.2" cy="799.12" r="8.15" fill="#99004C"/>
<circle cx="1450.42" cy="718.16" r="8.15" fill="#0000FF"/>
<circle cx="1701.98" cy="786.82" r="8.15" fill="#FF6600"/>
<circle cx="1615.58" cy="731.51" r="8.15" fill="#129BB4"/>
<circle cx="1523.75" cy="752.12" r="8.15" fill="#FF0000"/>
<circle cx="1598.25" cy="801.64" r="8.15" fill="#F74ED6"/>
<circle cx="1573.63" cy="765.07" r="8.15" fill="#00FF00"/>
<circle cx="1586.45" cy="788.77" r="8.15" fill="#BFBF00"/>
<circle cx="1473.23" cy="746.83" r="8.15" fill="#DC8CFA"/>
<path d="M1330.5 586.25V923.1M1321.2 913.8H1821.75M1321.2 832.35H1330.5M1321.2 750.9H1330.5M1321.2 669.45H1330.5M1321.2 588H1330.5M1428.4 913.8V923.1M1526.3 913.8V923.1M1624.2 913.8V923.1M1722.1 913.8V923.1M1820 913.8V923.1" stroke="#000" stroke-width="3.5" fill="none"/>
<text transform="translate(1309.3 923.1) scale(1 1.02)" font-size="29.0" text-anchor="end" stroke="#000" stroke-width="0.25">0</text>
<text transform="translate(1309.3 841.65) scale(1 1.02)" font-size="29.0" text-anchor="end" stroke="#000" stroke-width="0.25">1</text>
<text transform="translate(1309.3 760.2) scale(1 1.02)" font-size="29.0" text-anchor="end" stroke="#000" stroke-width="0.25">2</text>
<text transform="translate(1309.3 678.75) scale(1 1.02)" font-size="29.0" text-anchor="end" stroke="#000" stroke-width="0.25">3</text>
<text transform="translate(1309.3 597.3) scale(1 1.02)" font-size="29.0" text-anchor="end" stroke="#000" stroke-width="0.25">4</text>
<text transform="translate(1330.4 957) scale(1 1.02)" font-size="29.0" text-anchor="middle" stroke="#000" stroke-width="0.25">0</text>
<text transform="translate(1428.3 957) scale(1 1.02)" font-size="29.0" text-anchor="middle" stroke="#000" stroke-width="0.25">20</text>
<text transform="translate(1526.2 957) scale(1 1.02)" font-size="29.0" text-anchor="middle" stroke="#000" stroke-width="0.25">40</text>
<text transform="translate(1624.1 957) scale(1 1.02)" font-size="29.0" text-anchor="middle" stroke="#000" stroke-width="0.25">60</text>
<text transform="translate(1722 957) scale(1 1.02)" font-size="29.0" text-anchor="middle" stroke="#000" stroke-width="0.25">80</text>
<text transform="translate(1819.9 957) scale(1 1.02)" font-size="29.0" text-anchor="middle" stroke="#000" stroke-width="0.25">100</text>
<text x="1385.9" y="558.6" font-size="29.2" font-weight="bold">Other non-epithelial cancer</text>
<text transform="translate(1274.2 750.9) rotate(-90) scale(1 1.03)" font-size="29.2" text-anchor="middle" stroke="#000" stroke-width="0.25">Odds Ratio</text>
<text transform="translate(1413 998.3) scale(1 1.02)" font-size="29.2" stroke="#000" stroke-width="0.25">Max cAMP (% L-858051)</text>
</g>
<text transform="translate(-0.9 22.6) scale(0.94 1.05)" font-size="41" font-weight="bold">a</text>
<text transform="translate(-1.6 550.7) scale(1.054 1)" font-size="41" font-weight="bold">b</text>
<text transform="translate(1872.6 34.7) scale(1 1.03)" font-size="25.0" fill="#99004C" stroke="#99004C" stroke-width="0.25">Val60Leu</text>
<text transform="translate(1872.6 66) scale(1 1.03)" font-size="25.0" fill="#0000FF" stroke="#0000FF" stroke-width="0.25">Asp84Glu</text>
<text transform="translate(1872.6 97.3) scale(1 1.03)" font-size="25.0" fill="#FF6600" stroke="#FF6600" stroke-width="0.25">Val92Met</text>
<text transform="translate(1872.6 128.6) scale(1 1.03)" font-size="25.0" fill="#129BB4" stroke="#129BB4" stroke-width="0.25">Arg142His</text>
<text transform="translate(1872.6 159.9) scale(1 1.03)" font-size="25.0" fill="#FF0000" stroke="#FF0000" stroke-width="0.25">Arg151Cys</text>
<text transform="translate(1872.6 191.2) scale(1 1.03)" font-size="25.0" fill="#F74ED6" stroke="#F74ED6" stroke-width="0.25">Ile155Thr</text>
<text transform="translate(1872.6 222.5) scale(1 1.03)" font-size="25.0" fill="#00FF00" stroke="#00FF00" stroke-width="0.25">Arg160Trp</text>
<text transform="translate(1872.6 253.8) scale(1 1.03)" font-size="25.0" fill="#BFBF00" stroke="#BFBF00" stroke-width="0.25">Arg163Gln</text>
<text transform="translate(1872.6 285.1) scale(1 1.03)" font-size="25.0" fill="#DC8CFA" stroke="#DC8CFA" stroke-width="0.25">Asp294His</text>
<circle cx="1893.8" cy="314" r="9.9" fill="#000"/>
<circle cx="1893.8" cy="340.2" r="9.6" fill="#fff" stroke="#000" stroke-width="3.5"/>
<text transform="translate(1916.2 323.65) scale(1 1.02)" font-size="25.0" stroke="#000" stroke-width="0.25">VCR</text>
<text transform="translate(1915.9 349.5) scale(1 1.02)" font-size="25.0" stroke="#000" stroke-width="0.25">IDT</text>
</svg>
</body>
</html>
